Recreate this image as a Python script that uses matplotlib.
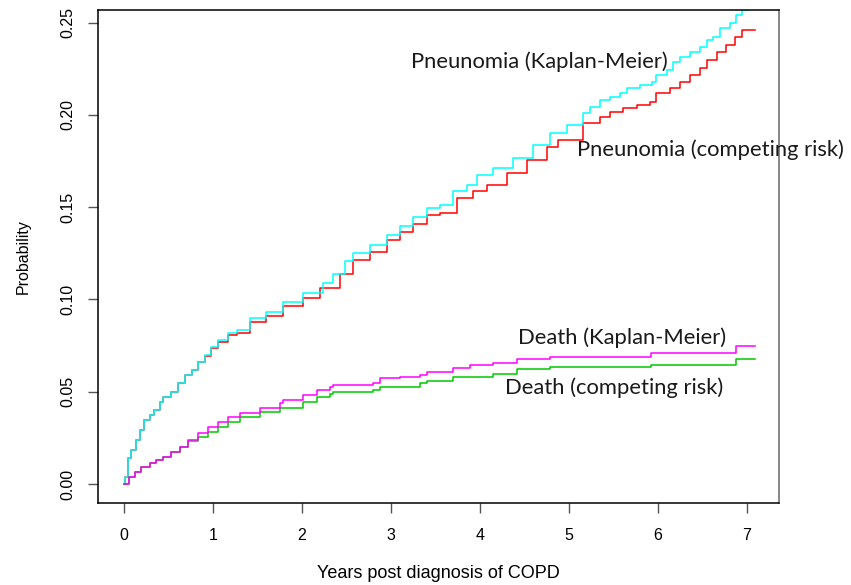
import matplotlib
matplotlib.use("Agg")
import matplotlib.pyplot as plt

# ---- data (years, cumulative probability) ----
pneu_km_t = [0, 0.015, 0.045, 0.08, 0.14, 0.18, 0.23, 0.29, 0.34, 0.40, 0.44, 0.53,
             0.61, 0.68, 0.76, 0.83, 0.91, 0.98, 1.06, 1.17, 1.27, 1.42, 1.60, 1.79,
             2.01, 2.24, 2.35, 2.48, 2.57, 2.76, 2.95, 3.10, 3.25, 3.40, 3.55, 3.70,
             3.85, 3.97, 4.15, 4.37, 4.60, 4.79, 4.98, 5.16, 5.24, 5.35, 5.46, 5.57,
             5.65, 5.80, 5.93, 5.98, 6.10, 6.17, 6.25, 6.36, 6.47, 6.55, 6.62, 6.70,
             6.81, 6.88, 6.94, 7.02, 7.09]
pneu_km_p = [0, 0.004, 0.014, 0.0184, 0.0238, 0.029, 0.0347, 0.0374, 0.040, 0.0446,
             0.0473, 0.050, 0.0546, 0.059, 0.0618, 0.0663, 0.070, 0.0744, 0.078, 0.0816,
             0.0834, 0.090, 0.093, 0.0986, 0.1035, 0.109, 0.114, 0.121, 0.125, 0.1295,
             0.135, 0.140, 0.1447, 0.1495, 0.151, 0.159, 0.162, 0.1674, 0.171, 0.1766,
             0.1836, 0.190, 0.1945, 0.201, 0.2044, 0.208, 0.2098, 0.2116, 0.2143,
             0.2161, 0.218, 0.2216, 0.2243, 0.2288, 0.2316, 0.2343, 0.237, 0.2405,
             0.2424, 0.2469, 0.2496, 0.254, 0.2568, 0.260, 0.262]

pneu_cr_t = [0, 0.015, 0.045, 0.08, 0.14, 0.18, 0.23, 0.29, 0.34, 0.40, 0.44, 0.53,
             0.61, 0.68, 0.76, 0.83, 0.91, 0.98, 1.06, 1.17, 1.27, 1.42, 1.60, 1.79,
             2.01, 2.20, 2.43, 2.57, 2.76, 2.95, 3.10, 3.25, 3.40, 3.55, 3.74, 3.92,
             4.08, 4.30, 4.53, 4.75, 4.88, 4.98, 5.16, 5.24, 5.35, 5.46, 5.61, 5.76,
             5.91, 5.98, 6.13, 6.25, 6.36, 6.47, 6.55, 6.66, 6.77, 6.87, 6.94, 7.09]
pneu_cr_p = [0, 0.004, 0.014, 0.0184, 0.0238, 0.029, 0.0347, 0.0374, 0.040, 0.0446,
             0.0473, 0.050, 0.0546, 0.059, 0.0618, 0.0663, 0.0695, 0.0735, 0.077,
             0.0806, 0.0818, 0.088, 0.0912, 0.0965, 0.101, 0.106, 0.114, 0.1213,
             0.1257, 0.132, 0.1365, 0.141, 0.1457, 0.1468, 0.155, 0.159, 0.162, 0.1685,
             0.1755, 0.1826, 0.1863, 0.1863, 0.1955, 0.1954, 0.199, 0.2017, 0.2035,
             0.2053, 0.2071, 0.2116, 0.2143, 0.218, 0.2216, 0.2252, 0.2297, 0.2343,
             0.2378, 0.2424, 0.246, 0.246]

death_km_t = [0, 0.06, 0.12, 0.19, 0.29, 0.36, 0.44, 0.53, 0.63, 0.72, 0.83, 0.94,
              1.06, 1.17, 1.30, 1.53, 1.75, 1.79, 2.01, 2.17, 2.31, 2.35, 2.80, 2.88,
              3.10, 3.33, 3.40, 3.70, 3.89, 4.15, 4.42, 4.79, 5.92, 6.88, 7.09]
death_km_p = [0, 0.004, 0.0067, 0.0094, 0.0112, 0.013, 0.0148, 0.0175, 0.020, 0.0238,
              0.0275, 0.031, 0.0337, 0.0361, 0.0384, 0.041, 0.0439, 0.0455, 0.048,
              0.051, 0.0526, 0.0536, 0.0547, 0.0574, 0.058, 0.059, 0.0607, 0.0628,
              0.0645, 0.0655, 0.0677, 0.0688, 0.071, 0.0748, 0.0748]

death_cr_t = [0, 0.06, 0.12, 0.19, 0.29, 0.36, 0.44, 0.53, 0.63, 0.72, 0.83, 0.94,
              1.06, 1.17, 1.30, 1.53, 1.75, 2.01, 2.17, 2.31, 2.35, 2.80, 2.88, 3.33,
              3.40, 3.70, 4.15, 4.42, 4.79, 5.92, 6.88, 7.09]
death_cr_p = [0, 0.004, 0.0067, 0.0094, 0.0112, 0.013, 0.0148, 0.0175, 0.020, 0.0235,
              0.0256, 0.0283, 0.031, 0.0337, 0.0363, 0.039, 0.041, 0.0445, 0.047, 0.049,
              0.0498, 0.051, 0.0526, 0.0547, 0.0558, 0.058, 0.0596, 0.0623, 0.0634,
              0.0645, 0.0677, 0.0677]

labels = ["Pneunomia (Kaplan-Meier)", "Pneunomia (competing risk)",
          "Death (Kaplan-Meier)", "Death (competing risk)"]

x_ticks = [0, 1, 2, 3, 4, 5, 6, 7]
y_ticks = [0.00, 0.05, 0.10, 0.15, 0.20, 0.25]

# ---- figure ----
fig = plt.figure(figsize=(8.51, 5.85), dpi=100)
ax = fig.add_axes([0.1152, 0.1402, 0.8002, 0.8427])

lw = 1.1
ax.plot(pneu_cr_t, pneu_cr_p, drawstyle="steps-post", color="#ff0000", lw=lw)
ax.plot(pneu_km_t, pneu_km_p, drawstyle="steps-post", color="#00ffff", lw=lw)
ax.plot(death_cr_t, death_cr_p, drawstyle="steps-post", color="#00c800", lw=lw)
ax.plot(death_km_t, death_km_p, drawstyle="steps-post", color="#ff00ff", lw=lw)

ax.set_xlim(-0.292, 7.36)
ax.set_ylim(-0.0103, 0.2568)

ax.set_xticks(x_ticks)
ax.set_xticklabels([str(v) for v in x_ticks])
ax.set_yticks(y_ticks)
ax.set_yticklabels(["%.2f" % v for v in y_ticks], rotation=90, va="center")

for lab in ax.get_xticklabels() + ax.get_yticklabels():
    lab.set_fontfamily("Liberation Sans")
    lab.set_fontsize(11.5)
ax.tick_params(direction="out", length=7, width=1, color="#555555")
ax.tick_params(axis="x", pad=11)
ax.tick_params(axis="y", pad=9)

for s in ax.spines.values():
    s.set_linewidth(1.1)
    s.set_color("black")
ax.spines["right"].set_color("#666666")

ax.set_xlabel("Years post diagnosis of COPD", fontfamily="Liberation Sans",
              fontsize=13, labelpad=16)
ax.set_ylabel("Probability", fontfamily="Liberation Sans", fontsize=11.5, labelpad=22)

# curve labels
txt = {"family": "Lato", "size": 15.8, "color": "#1a1a1a", "va": "center", "ha": "left"}
ax.text(3.22, 0.2286, labels[0], **txt)
ax.text(5.09, 0.181, labels[1], clip_on=False, **txt)
ax.text(4.43, 0.0791, labels[2], **txt)
ax.text(4.28, 0.052, labels[3], **txt)

fig.savefig("out.png", dpi=100)
